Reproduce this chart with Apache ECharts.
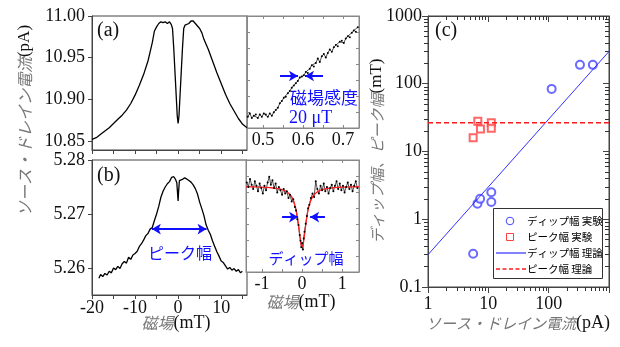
<!DOCTYPE html>
<html><head><meta charset="utf-8">
<script src="https://cdn.jsdelivr.net/npm/echarts@6/dist/echarts.min.js"></script>
<style>html,body{margin:0;padding:0;background:#fff}#c{width:620px;height:347px}</style>
</head><body><div id="c"></div>
<script>
// ---------- data ----------
// (a) main: field (mT) vs source-drain current (pA)
const panelA_field = [-20,-19,-18,-17,-16,-15,-14,-13,-12,-11,-10,-9,-8,-7,-6.5,-6,-5.5,-5,-4.5,-4,-3.5,-3,-2.5,-2,-1.6,-1.3,-1,-0.7,-0.4,-0.2,0,0.2,0.4,0.7,1,1.3,1.6,2,2.5,3,3.5,4,4.5,5,5.5,6,7,8,9,10,11,12,13,14,15,16];
const panelA_current = [10.852,10.854,10.858,10.862,10.866,10.871,10.876,10.881,10.887,10.895,10.905,10.917,10.930,10.946,10.957,10.968,10.982,10.987,10.991,10.993,10.992,10.993,10.991,10.993,10.990,10.985,10.96,10.93,10.90,10.88,10.871,10.88,10.90,10.93,10.96,10.985,10.989,10.988,10.991,10.994,10.994,10.991,10.988,10.985,10.980,10.972,10.960,10.946,10.932,10.919,10.906,10.895,10.886,10.877,10.870,10.866];
// (a) inset: field (mT) vs normalized signal
const insetA_field = [0.462,0.467,0.472,0.477,0.482,0.487,0.492,0.497,0.502,0.507,0.512,0.517,0.522,0.527,0.532,0.537,0.542,0.547,0.552,0.557,0.562,0.567,0.572,0.577,0.582,0.587,0.592,0.597,0.602,0.607,0.612,0.617,0.622,0.627,0.632,0.637,0.642,0.647,0.652,0.657,0.662,0.667,0.672,0.677,0.682,0.687,0.692,0.697,0.702,0.707,0.712,0.717,0.722,0.727,0.732,0.737];
const insetA_signal = [0.10,0.13,0.09,0.11,0.12,0.09,0.12,0.10,0.13,0.12,0.10,0.13,0.11,0.14,0.16,0.18,0.22,0.24,0.27,0.28,0.31,0.33,0.36,0.38,0.40,0.42,0.45,0.46,0.47,0.50,0.49,0.53,0.56,0.55,0.58,0.62,0.59,0.64,0.66,0.63,0.67,0.70,0.68,0.72,0.74,0.73,0.77,0.78,0.76,0.80,0.82,0.81,0.85,0.87,0.86,0.90];
// (b) main
const panelB_field = [-18.4,-18,-17.5,-17,-16.5,-16,-15.5,-15,-14.5,-14,-13.5,-13,-12.5,-12,-11.5,-11,-10.5,-10,-9.5,-9,-8.5,-8,-7.5,-7,-6.5,-6,-5.5,-5,-4.5,-4,-3.5,-3,-2.5,-2,-1.5,-1,-0.6,-0.3,-0.1,0,0.1,0.3,0.6,1,1.5,2,2.5,3,3.5,4,4.5,5,5.5,6,6.5,7,7.5,8,8.5,9,9.5,10,10.5,11,11.5,12,12.5,13,13.5,14,14.5,14.9];
const panelB_current = [5.2581,5.2588,5.2584,5.2590,5.2587,5.2594,5.2591,5.2600,5.2597,5.2603,5.2599,5.2608,5.2612,5.2609,5.2620,5.2616,5.2624,5.2627,5.2631,5.2640,5.2645,5.2652,5.2660,5.2664,5.2672,5.2675,5.2688,5.2700,5.2714,5.2731,5.2742,5.2750,5.2756,5.2760,5.2768,5.2769,5.2764,5.2758,5.2735,5.2724,5.2740,5.2762,5.2765,5.2764,5.2767,5.2765,5.2762,5.2759,5.2754,5.2747,5.2737,5.2722,5.2710,5.2697,5.2680,5.2670,5.2662,5.2650,5.2640,5.2630,5.2622,5.2613,5.2610,5.2604,5.2598,5.2601,5.2596,5.2599,5.2594,5.2597,5.2591,5.2594];
// (b) inset: measured points and fit
const insetB_field = [-1.38,-1.34,-1.30,-1.26,-1.22,-1.18,-1.14,-1.10,-1.06,-1.02,-0.98,-0.94,-0.90,-0.86,-0.82,-0.78,-0.74,-0.70,-0.66,-0.62,-0.58,-0.54,-0.50,-0.46,-0.42,-0.38,-0.34,-0.30,-0.26,-0.22,-0.18,-0.15,-0.12,-0.09,-0.06,-0.04,-0.02,0.00,0.02,0.04,0.06,0.09,0.12,0.15,0.18,0.22,0.26,0.30,0.34,0.38,0.42,0.46,0.50,0.54,0.58,0.62,0.66,0.70,0.74,0.78,0.82,0.86,0.90,0.94,0.98,1.02,1.06,1.10,1.14,1.18,1.22,1.26,1.30,1.34,1.38];
const insetB_signal = [0.80,0.76,0.83,0.78,0.74,0.81,0.77,0.72,0.79,0.75,0.70,0.77,0.73,0.80,0.85,0.78,0.82,0.75,0.79,0.71,0.76,0.73,0.69,0.74,0.70,0.72,0.66,0.69,0.63,0.65,0.58,0.55,0.47,0.42,0.33,0.28,0.22,0.26,0.20,0.30,0.36,0.43,0.50,0.57,0.60,0.66,0.70,0.67,0.81,0.74,0.70,0.77,0.73,0.79,0.72,0.76,0.70,0.75,0.78,0.72,0.77,0.81,0.74,0.79,0.73,0.77,0.71,0.76,0.80,0.74,0.78,0.72,0.77,0.81,0.75];
const fitB_field = [-1.4,-1.2,-1.0,-0.8,-0.6,-0.5,-0.4,-0.3,-0.25,-0.2,-0.15,-0.12,-0.10,-0.08,-0.06,-0.04,-0.02,0,0.02,0.04,0.06,0.08,0.10,0.12,0.15,0.2,0.25,0.3,0.4,0.5,0.6,0.8,1.0,1.2,1.42];
const fitB_signal = [0.761,0.760,0.757,0.753,0.744,0.735,0.720,0.690,0.664,0.622,0.554,0.495,0.446,0.391,0.333,0.279,0.240,0.225,0.240,0.279,0.333,0.391,0.446,0.495,0.554,0.622,0.664,0.690,0.720,0.735,0.744,0.753,0.757,0.760,0.761];
// (c) widths vs source-drain current
const dipCurrent = [5.6, 6.6, 7.3, 11.2, 11.2, 112, 330, 540];
const dipWidth = [0.31, 1.7, 2.0, 1.8, 2.5, 84, 190, 190];
const peakCurrent = [5.6, 6.7, 7.4, 11.2, 11.2];
const peakWidth = [16, 28, 21.5, 26.5, 22];
const dipTheoryCurrent = [1, 1000];
const dipTheoryWidth = [0.3, 300];
const peakTheoryCurrent = [1, 1000];
const peakTheoryWidth = [26.5, 26.5];
const seriesNames = ['ディップ幅 実験','ピーク幅 実験','ディップ幅 理論','ピーク幅 理論'];

// ---------- chart ----------
const zip = (a, b) => a.map((v, i) => [v, b[i]]);
const BLUE = '#1010ff', AX = '#444', INS = '#888';
const C_DIP = '#4646ff', C_PEAK = '#ff4040', C_DIPT = '#3030ff', C_PEAKT = '#ff1a1a';
const SERIF = '"Liberation Serif", "Times New Roman", serif';
const JP = '"Noto Sans CJK JP", sans-serif';
const lbl = (o) => Object.assign({fontFamily: SERIF, fontSize: 18, color: '#111'}, o);

const mainX = (grid, labels) => ({gridIndex: grid, type: 'value', min: -20, max: 16, position: 'bottom',
  axisLine: {onZero: false, lineStyle: {color: AX}}, splitLine: {show: false},
  axisTick: {length: 4, lineStyle: {color: AX}, customValues: [-20,-15,-10,-5,0,5,10,15]},
  axisLabel: labels ? lbl({margin: 4, customValues: labels, formatter: v => String(v)}) : {show: false}});
const insX = (grid, min, max, pos, ticks, labels) => ({gridIndex: grid, type: 'value', min, max, position: pos,
  axisLine: {onZero: false, lineStyle: {color: INS}}, splitLine: {show: false},
  axisTick: {inside: true, length: 3, lineStyle: {color: INS}, customValues: ticks},
  axisLabel: labels ? lbl({margin: 3, customValues: labels, formatter: v => (Math.abs(v) < 1 && v !== 0 ? v.toFixed(1) : String(v))}) : {show: false}});
const insY = (grid, pos) => ({gridIndex: grid, type: 'value', min: 0, max: 1, position: pos,
  axisLine: {show: true, onZero: false, lineStyle: {color: INS}}, splitLine: {show: false},
  axisTick: {show: true, inside: true, length: 3, lineStyle: {color: INS}, customValues: [0.143,0.286,0.429,0.571,0.714,0.857]},
  axisLabel: {show: false}});
const logAxis = (min, max, pos, inside, label) => ({gridIndex: 4, type: 'log', logBase: 10, min, max, position: pos,
  axisLine: {show: true, onZero: false, lineStyle: {color: AX}}, splitLine: {show: false},
  axisTick: {show: true, inside, length: 6, lineStyle: {color: AX}},
  minorTick: {show: true, splitNumber: 9, length: 4, lineStyle: {color: '#333', width: 1}},
  minorSplitLine: {show: false},
  axisLabel: label || {show: false}});

const arrowML = (data, both) => ({silent: true, animation: false, symbol: both ? ['arrow','arrow'] : ['none','arrow'],
  symbolSize: [8, 9], label: {show: false}, lineStyle: {color: BLUE, width: 2, type: 'solid'}, data});

// legend (drawn as graphic elements)
const LX = 493, LY = 208, LW = 109, LH = 70, rowsY = [221, 237, 253, 269];
const legendGraphic = [
  {type: 'rect', shape: {x: LX + 0.5, y: LY + 0.5, width: LW, height: LH}, style: {fill: '#fff', stroke: '#333', lineWidth: 1}, z: 100},
  {type: 'circle', shape: {cx: 510, cy: rowsY[0], r: 3.8}, style: {fill: 'none', stroke: C_DIP, lineWidth: 1}, z: 101},
  {type: 'rect', shape: {x: 506.5, y: rowsY[1] - 3.5, width: 7, height: 7}, style: {fill: 'none', stroke: C_PEAK, lineWidth: 1}, z: 101},
  {type: 'line', shape: {x1: 496, y1: rowsY[2], x2: 526, y2: rowsY[2]}, style: {stroke: C_DIPT, lineWidth: 1.2}, z: 101},
  {type: 'line', shape: {x1: 496, y1: rowsY[3], x2: 526, y2: rowsY[3]}, style: {stroke: C_PEAKT, lineWidth: 1.5, lineDash: [4, 2.5]}, z: 101}
].concat(seriesNames.map((n, i) => ({type: 'text', x: 527, y: rowsY[i], z: 101,
  style: {text: n, fontFamily: JP, fontSize: 10.5, fill: '#000', align: 'left', verticalAlign: 'middle'}})));

const rich = (jpSize, sSize) => ({j: {fontFamily: JP, fontSize: jpSize, fontStyle: 'italic', fill: '#777', color: '#777'},
  s: {fontFamily: SERIF, fontSize: sSize, fill: '#111', color: '#111'}});

const option = {
  animation: false,
  backgroundColor: '#fff',
  grid: [
    {left: 92, top: 16, width: 155, height: 134, show: true, borderColor: AX, backgroundColor: '#fff'},
    {left: 247, top: 16, width: 112, height: 112, show: true, borderColor: INS, backgroundColor: '#fff'},
    {left: 92, top: 160, width: 155, height: 135, show: true, borderColor: AX, backgroundColor: '#fff'},
    {left: 246, top: 160, width: 113, height: 112, show: true, borderColor: INS, backgroundColor: '#fff'},
    {left: 428, top: 16, width: 181, height: 271, show: true, borderColor: AX}
  ],
  xAxis: [
    mainX(0, null),
    insX(1, 0.46, 0.74, 'bottom', [0.5,0.55,0.6,0.65,0.7], [0.5,0.6,0.7]),
    insX(1, 0.46, 0.74, 'top', [0.5,0.55,0.6,0.65,0.7], null),
    mainX(2, [-20,-10,0,10]),
    insX(3, -1.4, 1.42, 'bottom', [-1,-0.5,0,0.5,1], [-1,0,1]),
    insX(3, -1.4, 1.42, 'top', [-1,-0.5,0,0.5,1], null),
    logAxis(1, 1000, 'bottom', false, lbl({margin: 8, formatter: v => (v >= 999 ? '' : String(+(+v).toPrecision(3)))})),
    logAxis(1, 1000, 'top', true, null)
  ],
  yAxis: [
    {gridIndex: 0, type: 'value', min: 10.8392, max: 11.0, axisLine: {show: true, onZero: false, lineStyle: {color: AX}}, splitLine: {show: false},
      axisTick: {show: true, length: 4, lineStyle: {color: AX}, customValues: [10.85,10.90,10.95,11.00]},
      axisLabel: lbl({margin: 7, customValues: [10.85,10.90,10.95,11.00], formatter: v => v.toFixed(2)})},
    insY(1, 'left'), insY(1, 'right'),
    {gridIndex: 2, type: 'value', min: 5.255, max: 5.28, axisLine: {show: true, onZero: false, lineStyle: {color: AX}}, splitLine: {show: false},
      axisTick: {show: true, length: 4, lineStyle: {color: AX}, customValues: [5.26,5.27,5.28]},
      axisLabel: lbl({margin: 7, customValues: [5.26,5.27,5.28], formatter: v => v.toFixed(2)})},
    insY(3, 'left'), insY(3, 'right'),
    logAxis(0.1, 1000, 'left', false, lbl({margin: 6, formatter: v => String(+(+v).toPrecision(3))})),
    logAxis(0.1, 1000, 'right', true, null)
  ],
  series: [
    {type: 'line', xAxisIndex: 0, yAxisIndex: 0, data: zip(panelA_field, panelA_current), symbol: 'none',
      lineStyle: {color: '#000', width: 1.3}, clip: true},
    {type: 'line', xAxisIndex: 1, yAxisIndex: 1, data: zip(insetA_field, insetA_signal), symbol: 'circle', symbolSize: 2,
      itemStyle: {color: '#000'}, lineStyle: {color: '#000', width: 0.7},
      markLine: arrowML([[{coord: [0.5425, 0.464]}, {coord: [0.5875, 0.464]}], [{coord: [0.65, 0.464]}, {coord: [0.605, 0.464]}]], false)},
    {type: 'line', xAxisIndex: 3, yAxisIndex: 3, data: zip(panelB_field, panelB_current), symbol: 'none',
      lineStyle: {color: '#000', width: 1.3},
      markLine: arrowML([[{coord: [-6.1, 5.2672]}, {coord: [6.6, 5.2672]}]], true)},
    {type: 'line', xAxisIndex: 4, yAxisIndex: 4, data: zip(insetB_field, insetB_signal), symbol: 'circle', symbolSize: 2,
      itemStyle: {color: '#000'}, lineStyle: {color: '#000', width: 0.7},
      markLine: arrowML([[{coord: [-0.5, 0.49]}, {coord: [-0.1, 0.49]}], [{coord: [0.57, 0.49]}, {coord: [0.2, 0.49]}]], false)},
    {type: 'line', xAxisIndex: 4, yAxisIndex: 4, data: zip(fitB_field, fitB_signal), symbol: 'none', smooth: true,
      lineStyle: {color: '#ff2020', width: 1.3}},
    {name: seriesNames[0], type: 'scatter', xAxisIndex: 6, yAxisIndex: 6, data: zip(dipCurrent, dipWidth),
      symbol: 'emptyCircle', symbolSize: 8, itemStyle: {color: C_DIP, borderColor: C_DIP, borderWidth: 1}},
    {name: seriesNames[1], type: 'scatter', xAxisIndex: 6, yAxisIndex: 6, data: zip(peakCurrent, peakWidth),
      symbol: 'emptyRect', symbolSize: 7, itemStyle: {color: C_PEAK, borderColor: C_PEAK, borderWidth: 1}},
    {name: seriesNames[2], type: 'line', xAxisIndex: 6, yAxisIndex: 6, data: zip(dipTheoryCurrent, dipTheoryWidth),
      symbol: 'none', lineStyle: {color: C_DIPT, width: 1}},
    {name: seriesNames[3], type: 'line', xAxisIndex: 6, yAxisIndex: 6, data: zip(peakTheoryCurrent, peakTheoryWidth),
      symbol: 'none', lineStyle: {color: C_PEAKT, width: 1.5, type: [5, 3]}}
  ],
  graphic: [
    {type: 'text', x: 97, y: 31, style: {text: '(a)', fontFamily: SERIF, fontSize: 20, fill: '#111', align: 'left', verticalAlign: 'middle'}},
    {type: 'text', x: 97, y: 176, style: {text: '(b)', fontFamily: SERIF, fontSize: 20, fill: '#111', align: 'left', verticalAlign: 'middle'}},
    {type: 'text', x: 435, y: 31, style: {text: '(c)', fontFamily: SERIF, fontSize: 20, fill: '#111', align: 'left', verticalAlign: 'middle'}},
    {type: 'text', x: 290, y: 98, style: {text: '磁場感度', fontFamily: JP, fontSize: 17, fill: BLUE, align: 'left', verticalAlign: 'middle'}},
    {type: 'text', x: 289, y: 118, style: {text: '20 μT', fontFamily: SERIF, fontSize: 18, fill: BLUE, align: 'left', verticalAlign: 'middle'}},
    {type: 'text', x: 180, y: 253, style: {text: 'ピーク幅', fontFamily: JP, fontSize: 16, fill: BLUE, align: 'center', verticalAlign: 'middle'}},
    {type: 'text', x: 306, y: 258, style: {text: 'ディップ幅', fontFamily: JP, fontSize: 15, fill: BLUE, align: 'center', verticalAlign: 'middle'}},
    {type: 'text', x: 176, y: 323, style: {text: '{j|磁場}{s|(mT)}', align: 'center', verticalAlign: 'middle', rich: rich(16, 18)}},
    {type: 'text', x: 301, y: 302, style: {text: '{j|磁場}{s|(mT)}', align: 'center', verticalAlign: 'middle', rich: rich(16, 18)}},
    {type: 'text', x: 518, y: 323, style: {text: '{j|ソース・ドレイン電流}{s|(pA)}', align: 'center', verticalAlign: 'middle', rich: rich(15, 18)}},
    {type: 'text', x: 25, y: 121, rotation: Math.PI / 2, style: {text: '{j|ソース・ドレイン電流}{s|(pA)}', align: 'center', verticalAlign: 'middle', rich: rich(16, 17)}},
    {type: 'text', x: 377, y: 151, rotation: Math.PI / 2, style: {text: '{j|ディップ幅、ピーク幅}{s|(mT)}', align: 'center', verticalAlign: 'middle', rich: rich(15, 17)}}
  ].concat(legendGraphic)
};
const chart = echarts.init(document.getElementById('c'));
chart.setOption(option);
</script>
</body></html>
